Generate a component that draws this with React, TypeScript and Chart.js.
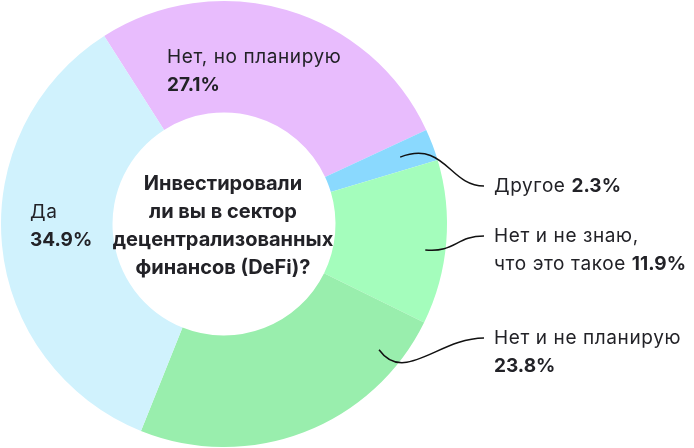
import React, { useEffect, useRef } from "react";
import { Chart, registerables } from "chart.js";

Chart.register(...registerables);

const categories = ["Нет, но планирую", "Другое", "Нет и не знаю, что это такое", "Нет и не планирую", "Да"];
const shares = [27.1, 2.3, 11.9, 23.8, 34.9];
const sliceColors = ["#E8BCFD", "#8AD9FE", "#A4FDBC", "#99EEAD", "#D0F2FD"];
const labelLines = [["Нет, но планирую"], ["Другое"], ["Нет и не знаю,", "что это такое"], ["Нет и не планирую"], ["Да"]];
const centerTitle = ["Инвестировали", "ли вы в сектор", "децентрализованных", "финансов (DeFi)?"];

const TEXT = "#222227";
const FONT_REG = "19px Inter";
const FONT_BOLD = "bold 19px Inter";
const LINE_H = 28;

// label placement (style only)
const placement = [
  { dx: 167, y: 63, inline: false },
  { dx: 494, y: 192, inline: true, conn: { af: 0.5, rf: 0.69, c1: [45, -17], c2: [-35, 0] } },
  { dx: 494, y: 242, inline: true, conn: { af: 0.56, rf: 0.82, c1: [30, 3], c2: [-28, 0] } },
  { dx: 494, y: 344, inline: false, conn: { af: 0.15, rf: 0.79, c1: [25, 35], c2: [-45, 0] } },
  { dx: 30, y: 218, inline: false },
];

const labelPlugin = {
  id: "labelPlugin",
  afterDraw(chart: any) {
    const ctx = chart.ctx as any;
    const meta = chart.getDatasetMeta(0);
    const left = chart.chartArea.left - 1;
    const cx = meta.data[0].x;
    const cy = meta.data[0].y;
    ctx.save();
    // center title
    ctx.fillStyle = TEXT;
    ctx.font = "bold 20px Inter";
    ctx.textAlign = "center";
    ctx.textBaseline = "alphabetic";
    const firstBase = cy - 34;
    centerTitle.forEach((t, i) => ctx.fillText(t, cx - 1, firstBase + i * LINE_H));

    ctx.textAlign = "left";
    shares.forEach((v, i) => {
      const p = placement[i];
      const lines = labelLines[i];
      const pct = v.toFixed(1) + "%";
      const x = left + p.dx;
      lines.forEach((ln, k) => {
        const yy = p.y + k * LINE_H;
        ctx.font = FONT_REG;
        ctx.letterSpacing = "0.6px";
        ctx.fillText(ln, x, yy);
        if (p.inline && k === lines.length - 1) {
          const w = ctx.measureText(ln + " ").width;
          ctx.font = FONT_BOLD;
          ctx.letterSpacing = "0px";
          ctx.fillText(pct, x + w, yy);
        }
      });
      ctx.letterSpacing = "0px";
      if (!p.inline) {
        ctx.font = FONT_BOLD;
        ctx.fillText(pct, x, p.y + lines.length * LINE_H);
      }
      if (p.conn) {
        const arc = meta.data[i];
        const a = arc.startAngle + p.conn.af * (arc.endAngle - arc.startAngle);
        const r = arc.innerRadius + p.conn.rf * (arc.outerRadius - arc.innerRadius);
        const sx = arc.x + Math.cos(a) * r;
        const sy = arc.y + Math.sin(a) * r;
        const ex = x - 10;
        const ey = p.y - 6;
        ctx.beginPath();
        ctx.moveTo(sx, sy);
        ctx.bezierCurveTo(sx + p.conn.c1[0], sy + p.conn.c1[1], ex + p.conn.c2[0], ey + p.conn.c2[1], ex, ey);
        ctx.strokeStyle = "#111111";
        ctx.lineWidth = 1.5;
        ctx.stroke();
      }
    });
    ctx.restore();
  },
};

export default function App() {
  const ref = useRef<HTMLCanvasElement>(null);
  useEffect(() => {
    if (!ref.current) return;
    const chart = new Chart(ref.current, {
      type: "doughnut",
      data: {
        labels: categories,
        datasets: [
          {
            data: shares,
            backgroundColor: sliceColors,
            borderWidth: 0,
          },
        ],
      },
      options: {
        responsive: false,
        animation: false,
        rotation: -32.5,
        cutout: "50%",
        layout: { padding: { left: 1, top: 1, bottom: 1, right: 247 } },
        plugins: {
          legend: { display: false },
          tooltip: { enabled: false },
        },
      },
      plugins: [labelPlugin],
    });
    return () => chart.destroy();
  }, []);
  return (
    <div style={{ position: "absolute", left: 0, top: 0, width: 694, height: 448, background: "#fff" }}>
      <canvas ref={ref} width={694} height={448} />
    </div>
  );
}
